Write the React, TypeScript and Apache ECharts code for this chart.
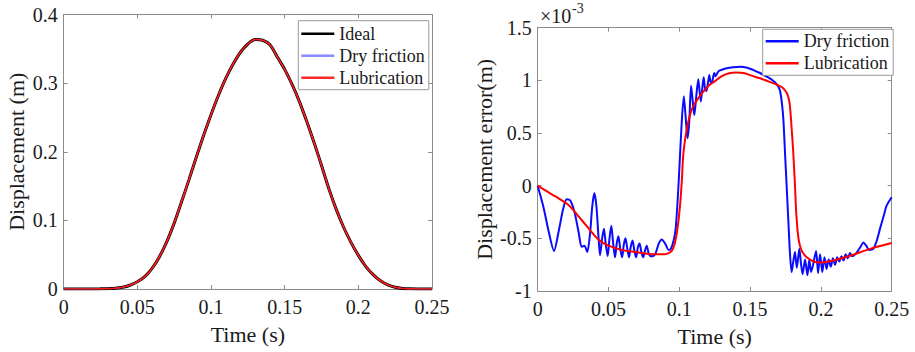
import React, { useEffect, useRef } from "react";
import * as echarts from "echarts";

// ---------- Data ----------
// Left: displacement (m) vs time (s)
const leftTime = [
  0, 0.005, 0.01, 0.015, 0.02, 0.025, 0.03, 0.035, 0.04, 0.045, 0.05, 0.055, 0.06, 0.065, 0.07,
  0.075, 0.08, 0.085, 0.09, 0.095, 0.1, 0.105, 0.11, 0.115, 0.12, 0.125, 0.13, 0.135, 0.14, 0.145,
  0.15, 0.155, 0.16, 0.165, 0.17, 0.175, 0.18, 0.185, 0.19, 0.195, 0.2, 0.205, 0.21, 0.215, 0.22,
  0.225, 0.23, 0.235, 0.24, 0.245, 0.25,
];
const idealDisp = [
  0, 0, 0, 0, 0, 0.0002, 0.0005, 0.001, 0.0025, 0.0055, 0.0105, 0.018, 0.03, 0.047, 0.069,
  0.096, 0.127, 0.159, 0.192, 0.224, 0.254, 0.282, 0.307, 0.328, 0.345, 0.357, 0.3635, 0.3625, 0.356, 0.338,
  0.32, 0.298, 0.273, 0.244, 0.213, 0.18, 0.146, 0.116, 0.09, 0.068, 0.049, 0.033, 0.021, 0.012, 0.006,
  0.0025, 0.0008, 0.0002, 0, 0, 0,
];
const dryDisp = idealDisp;
const lubDisp = idealDisp;

// Right: displacement error (x10^-3 m) vs time (s)
const dryErrTime = [
  0, 0.004, 0.008, 0.0115, 0.015, 0.018, 0.0205, 0.023, 0.026, 0.029, 0.031, 0.033, 0.035, 0.037,
  0.0385, 0.04, 0.0415, 0.043, 0.044, 0.0455, 0.0468, 0.048, 0.0494, 0.0507, 0.052, 0.0533, 0.0546,
  0.0558, 0.057, 0.0583, 0.0596, 0.0608, 0.062, 0.0633, 0.0645, 0.0657, 0.067, 0.0683, 0.0695, 0.0707,
  0.072, 0.0732, 0.0745, 0.0757, 0.077, 0.0783, 0.0795, 0.081, 0.083, 0.0855, 0.0876, 0.09, 0.0925,
  0.094, 0.096, 0.0975, 0.099, 0.1, 0.1017, 0.1032, 0.1045, 0.1058, 0.107, 0.1083, 0.1095, 0.1106,
  0.112, 0.1134, 0.1143, 0.1152, 0.1162, 0.1172, 0.1182, 0.1192, 0.1202, 0.1212, 0.122, 0.123, 0.124,
  0.1247, 0.1255, 0.1265, 0.128, 0.1335, 0.138, 0.143, 0.148, 0.152, 0.157, 0.1615, 0.165, 0.1677,
  0.17, 0.1713, 0.1725, 0.1735, 0.1747, 0.1758, 0.177, 0.1781, 0.1793, 0.1805, 0.1817, 0.183, 0.1848,
  0.186, 0.1871, 0.1888, 0.1905, 0.1918, 0.193, 0.1945, 0.1966, 0.198, 0.1994, 0.201, 0.2025, 0.204,
  0.2055, 0.207, 0.2085, 0.21, 0.2115, 0.213, 0.2145, 0.216, 0.2175, 0.219, 0.2206, 0.222, 0.225,
  0.228, 0.23, 0.232, 0.234, 0.237, 0.2395, 0.2417, 0.2445, 0.2464, 0.25,
];
const dryErr = [
  0, -0.2, -0.45, -0.62, -0.42, -0.22, -0.13, -0.14, -0.25, -0.45, -0.58, -0.57, -0.63, -0.45,
  -0.2, -0.07, -0.2, -0.5, -0.66, -0.5, -0.41, -0.55, -0.67, -0.5, -0.38, -0.55, -0.68,
  -0.55, -0.48, -0.6, -0.68, -0.56, -0.5, -0.6, -0.68, -0.58, -0.52, -0.62, -0.68, -0.59,
  -0.55, -0.63, -0.68, -0.62, -0.57, -0.64, -0.67, -0.67, -0.65, -0.55, -0.51, -0.55, -0.61,
  -0.6, -0.52, -0.4, -0.1, 0.15, 0.6, 0.85, 0.65, 0.45, 0.6, 0.95, 0.8, 0.67,
  0.85, 1.01, 0.9, 0.8, 0.92, 1.03, 0.92, 0.9, 0.97, 1.05, 0.99, 0.98, 1.04,
  1.07, 1.04, 1.06, 1.09, 1.115, 1.125, 1.13, 1.12, 1.1, 1.07, 1.037, 1.01, 0.98,
  0.94, 0.89, 0.78, 0.63, 0.3, 0, -0.33, -0.63, -0.82, -0.72, -0.63, -0.78, -0.6,
  -0.75, -0.84, -0.7, -0.85, -0.7, -0.82, -0.75, -0.62, -0.83, -0.65, -0.82, -0.68, -0.79,
  -0.7, -0.77, -0.69, -0.75, -0.68, -0.72, -0.67, -0.71, -0.65, -0.69, -0.64, -0.67, -0.64,
  -0.58, -0.54, -0.57, -0.61, -0.6, -0.52, -0.41, -0.28, -0.19, -0.11,
];
const lubErrTime = [
  0, 0.006, 0.0122, 0.0216, 0.0287, 0.0357, 0.0428, 0.05, 0.0593, 0.0687, 0.0805, 0.0899, 0.0925,
  0.0946, 0.096, 0.097, 0.0988, 0.1005, 0.1018, 0.1029, 0.1052, 0.1087, 0.1134, 0.118, 0.1217, 0.125,
  0.13, 0.1358, 0.14, 0.1453, 0.151, 0.157, 0.163, 0.1688, 0.173, 0.1759, 0.1772, 0.1781, 0.1793,
  0.1805, 0.1817, 0.1829, 0.1852, 0.19, 0.1994, 0.2088, 0.2206, 0.2347, 0.25,
];
const lubErr = [
  0, -0.05, -0.1, -0.18, -0.29, -0.4, -0.51, -0.57, -0.61, -0.63, -0.65, -0.65, -0.64,
  -0.62, -0.58, -0.54, -0.4, -0.19, 0.05, 0.31, 0.53, 0.72, 0.83, 0.91, 0.96, 0.99,
  1.04, 1.07, 1.075, 1.07, 1.045, 1.02, 0.99, 0.96, 0.93, 0.88, 0.83, 0.76, 0.55,
  0.31, 0, -0.32, -0.57, -0.68, -0.73, -0.71, -0.665, -0.6, -0.545,
];

const timeTicks = { min: 0, max: 0.25, interval: 0.05 };
const leftYTicks = { min: 0, max: 0.4, interval: 0.1 };
const rightYTicks = { min: -1, max: 1.5, interval: 0.5 };

// ---------- Styles ----------
const FONT = "'Liberation Serif', 'Times New Roman', serif";
const AXIS_COLOR = "#8c8c8c";
const TEXT_COLOR = "#1a1a1a";

const pairs = (xs: number[], ys: number[]) => xs.map((x, i) => [x, ys[i]]);

function makeAxis(
  gridIndex: number,
  position: string,
  ticks: { min: number; max: number; interval: number },
  showLabel: boolean,
  name?: string,
  nameGap?: number
) {
  return {
    type: "value",
    gridIndex,
    position,
    min: ticks.min,
    max: ticks.max,
    interval: ticks.interval,
    name: name || "",
    nameLocation: "middle",
    nameGap: nameGap || 0,
    nameTextStyle: { fontFamily: FONT, fontSize: 22, color: TEXT_COLOR },
    axisLine: { show: true, onZero: false, lineStyle: { color: AXIS_COLOR, width: 1 } },
    axisTick: { show: true, inside: true, length: 4, lineStyle: { color: AXIS_COLOR } },
    axisLabel: {
      show: showLabel,
      fontFamily: FONT,
      fontSize: 20,
      color: TEXT_COLOR,
      margin: position === "bottom" ? 8 : 6,
    },
    splitLine: { show: false },
  };
}

export default function App() {
  const ref = useRef<HTMLDivElement>(null);

  useEffect(() => {
    if (!ref.current) return;
    const chart = echarts.init(ref.current, undefined, { renderer: "svg" });

    const legendCommon = {
      orient: "vertical",
      itemGap: 0,
      itemWidth: 33,
      itemHeight: 2.5,
      icon: "rect",
      borderColor: "#9a9a9a",
      borderWidth: 1,
      backgroundColor: "#ffffff",
      borderRadius: 0,
      selectedMode: false,
      textStyle: { fontFamily: FONT, fontSize: 18, color: TEXT_COLOR, lineHeight: 22 },
    };

    chart.setOption({
      animation: false,
      backgroundColor: "#ffffff",
      grid: [
        { left: 63.7, right: 483, top: 14.5, bottom: 63 },
        { left: 537.7, right: 23.3, top: 27.7, bottom: 59.7 },
      ],
      xAxis: [
        makeAxis(0, "bottom", timeTicks, true, "Time (s)", 34),
        makeAxis(0, "top", timeTicks, false),
        makeAxis(1, "bottom", timeTicks, true, "Time (s)", 34),
        makeAxis(1, "top", timeTicks, false),
      ],
      yAxis: [
        makeAxis(0, "left", leftYTicks, true, "Displacement (m)", 36),
        makeAxis(0, "right", leftYTicks, false),
        makeAxis(1, "left", rightYTicks, true, "Displacement error(m)", 42),
        makeAxis(1, "right", rightYTicks, false),
      ],
      legend: [
        {
          ...legendCommon,
          left: 298.3,
          top: 20.7,
          padding: [2, 4, 1, 3],
          data: [
            { name: "Ideal", icon: "rect", itemStyle: { color: "#000000" } },
            { name: "Dry friction", icon: "rect", itemStyle: { color: "#8a8aff" } },
            { name: "Lubrication", icon: "rect", itemStyle: { color: "#ff2a2a" } },
          ],
        },
        {
          ...legendCommon,
          left: 762.7,
          top: 29.3,
          padding: [1, 4, 1, 3],
          data: [
            { name: "Dry friction", icon: "rect", itemStyle: { color: "#0a0aff" } },
            { name: "Lubrication", icon: "rect", itemStyle: { color: "#ff0000" } },
          ],
        },
      ],
      graphic: [
        {
          type: "text",
          left: 540,
          top: 6,
          style: { text: "×10", fontFamily: FONT, fontSize: 20, fill: TEXT_COLOR },
        },
        {
          type: "text",
          left: 572,
          top: 1,
          style: { text: "-3", fontFamily: FONT, fontSize: 14, fill: TEXT_COLOR },
        },
      ],
      series: [
        {
          type: "line",
          name: "Ideal",
          xAxisIndex: 0,
          yAxisIndex: 0,
          data: pairs(leftTime, idealDisp),
          symbol: "none",
          smooth: 0.3,
          lineStyle: { color: "#000000", width: 3 },
          itemStyle: { color: "#000000" },
        },
        {
          type: "line",
          name: "Dry friction",
          xAxisIndex: 0,
          yAxisIndex: 0,
          data: pairs(leftTime, dryDisp),
          symbol: "none",
          smooth: 0.3,
          lineStyle: { color: "#7b7bff", width: 1 },
          itemStyle: { color: "#7b7bff" },
        },
        {
          type: "line",
          name: "Lubrication",
          xAxisIndex: 0,
          yAxisIndex: 0,
          data: pairs(leftTime, lubDisp),
          symbol: "none",
          smooth: 0.3,
          lineStyle: { color: "#ff1a1a", width: 1.6 },
          itemStyle: { color: "#ff1a1a" },
        },
        {
          type: "line",
          name: "Dry friction",
          xAxisIndex: 2,
          yAxisIndex: 2,
          data: pairs(dryErrTime, dryErr),
          symbol: "none",
          smooth: 0.25,
          lineStyle: { color: "#0a0aff", width: 2 },
          itemStyle: { color: "#0a0aff" },
        },
        {
          type: "line",
          name: "Lubrication",
          xAxisIndex: 2,
          yAxisIndex: 2,
          data: pairs(lubErrTime, lubErr),
          symbol: "none",
          smooth: 0.35,
          lineStyle: { color: "#ff0000", width: 2 },
          itemStyle: { color: "#ff0000" },
        },
      ],
    });

    return () => chart.dispose();
  }, []);

  return (
    <div
      ref={ref}
      style={{ position: "fixed", left: 0, top: 0, width: 915, height: 352, background: "#fff" }}
    />
  );
}
